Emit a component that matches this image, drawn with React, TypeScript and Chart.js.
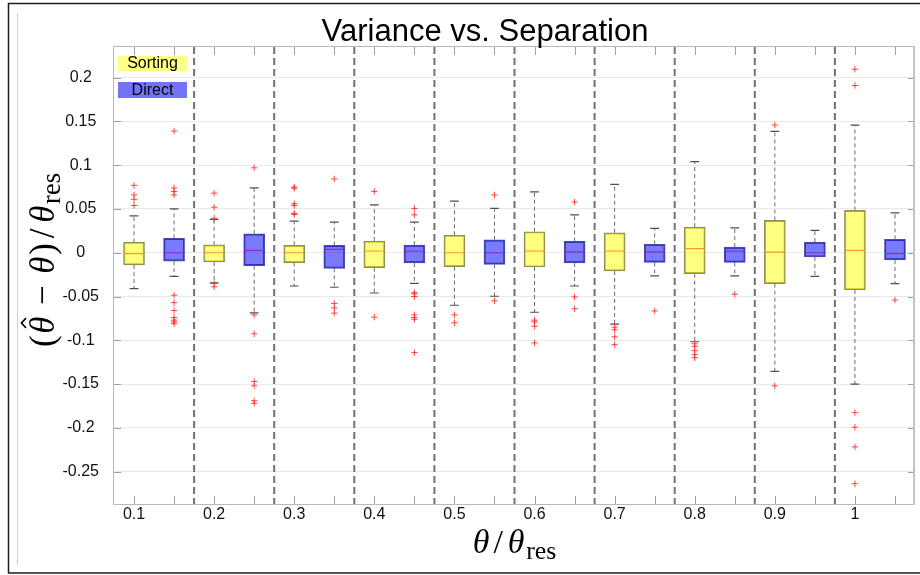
import React, { useEffect, useRef } from "react";
import { Chart, registerables } from "chart.js";

Chart.register(...registerables);

// ---------------- DATA ----------------
const categories = ["0.1", "0.2", "0.3", "0.4", "0.5", "0.6", "0.7", "0.8", "0.9", "1"];

const yTickValues = [-0.25, -0.2, -0.15, -0.1, -0.05, 0, 0.05, 0.1, 0.15, 0.2];
const yTickLabels = ["-0.25", "-0.2", "-0.15", "-0.1", "-0.05", "0", "0.05", "0.1", "0.15", "0.2"];

// Sorting (yellow)
const sortingLow = [-0.041, -0.0345, -0.038, -0.046, -0.06, -0.068, -0.0816, -0.1017, -0.1355, -0.15];
const sortingQ1 = [-0.014, -0.0106, -0.0114, -0.017, -0.016, -0.0163, -0.0208, -0.024, -0.0353, -0.0425];
const sortingMedian = [-0.001, 0, 0, 0.002, 0, 0.002, 0.002, 0.0046, 0.0008, 0.0027];
const sortingQ3 = [0.012, 0.009, 0.0084, 0.0133, 0.02, 0.024, 0.0228, 0.0293, 0.0369, 0.0483];
const sortingHigh = [0.042, 0.038, 0.036, 0.0547, 0.059, 0.0695, 0.078, 0.104, 0.1386, 0.1458];
const sortingOutliers = [
  [0.077, 0.066, 0.061, 0.054],
  [0.068, 0.052, 0.0395, -0.0352, -0.039],
  [0.075, 0.0737, 0.056, 0.054, 0.045, 0.0437],
  [0.07, -0.0736],
  [-0.071, -0.08],
  [-0.077, -0.079, -0.084, -0.103],
  [-0.085, -0.088, -0.096, -0.105],
  [-0.104, -0.107, -0.112, -0.1165, -0.12],
  [0.1458, -0.152],
  [0.2096, 0.191, -0.1826, -0.1993, -0.2217, -0.2638],
];

// Direct (blue)
const directLow = [-0.027, -0.0687, -0.0394, -0.035, -0.0497, -0.038, -0.0265, -0.0265, -0.027, -0.0353];
const directQ1 = [-0.0095, -0.0148, -0.0178, -0.0117, -0.0133, -0.0117, -0.011, -0.011, -0.0049, -0.0083];
const directMedian = [0, 0.0027, 0.0039, 0.002, 0, 0.001, 0.001, 0.002, 0, -0.001];
const directQ3 = [0.0164, 0.0216, 0.0084, 0.0088, 0.0148, 0.013, 0.0095, 0.0065, 0.0122, 0.0153];
const directHigh = [0.05, 0.074, 0.035, 0.035, 0.0506, 0.0433, 0.0278, 0.0285, 0.0255, 0.0456];
const directOutliers = [
  [0.139, 0.074, 0.07, 0.066, -0.0485, -0.057, -0.066, -0.074, -0.077, -0.079, -0.081],
  [0.097, -0.071, -0.0926, -0.147, -0.152, -0.169, -0.172],
  [0.0843, -0.058, -0.063, -0.069],
  [0.0506, 0.0433, -0.0456, -0.047, -0.05, -0.071, -0.074, -0.076, -0.114],
  [0.066, -0.055],
  [0.058, -0.0505, -0.064],
  [-0.0664],
  [-0.0474],
  [],
  [-0.054],
];

const seriesNames = ["Sorting", "Direct"];

// ---------------- STYLE ----------------
const Y_MIN = -0.287;
const Y_MAX = 0.235;
const SANS = '"Liberation Sans", Arial, sans-serif';
const SERIF = '"Liberation Serif", "DejaVu Serif", serif';

const yellowFill = "rgba(255,255,0,0.5)";
const yellowEdge = "#8f8f55";
const blueFill = "rgba(0,0,255,0.52)";
const blueEdge = "#4a4aa8";
const yellowMedian = "#f59a2c";
const blueMedian = "#8e2fb0";

const pos = (i: number, s: number) => 2 * i + 1 + s;

function boxBars(label: string, q1: number[], q3: number[], s: number, fill: string, edge: string) {
  return {
    type: "bar" as const,
    label,
    data: categories.map((_, i) => ({ x: pos(i, s), y: [q1[i], q3[i]] })),
    backgroundColor: fill,
    borderColor: edge,
    borderWidth: 1.3,
    borderSkipped: false,
    barThickness: 21,
    grouped: false,
    order: 3,
  };
}

function whiskerPts(low: number[], q1: number[], q3: number[], high: number[], s: number) {
  const pts: any[] = [];
  categories.forEach((_, i) => {
    const x = pos(i, s);
    pts.push({ x, y: q3[i] }, { x, y: high[i] }, { x, y: null }, { x, y: q1[i] }, { x, y: low[i] }, { x, y: null });
  });
  return pts;
}

function capPts(low: number[], high: number[], s: number) {
  const pts: any[] = [];
  categories.forEach((_, i) => {
    const x = pos(i, s);
    pts.push({ x: x - 0.11, y: high[i] }, { x: x + 0.11, y: high[i] }, { x, y: null });
    pts.push({ x: x - 0.11, y: low[i] }, { x: x + 0.11, y: low[i] }, { x, y: null });
  });
  return pts;
}

function medianPts(med: number[], s: number) {
  const pts: any[] = [];
  categories.forEach((_, i) => {
    const x = pos(i, s);
    pts.push({ x: x - 0.25, y: med[i] }, { x: x + 0.25, y: med[i] }, { x, y: null });
  });
  return pts;
}

function outlierPts(out: number[][], s: number) {
  const pts: any[] = [];
  out.forEach((arr, i) => arr.forEach((v) => pts.push({ x: pos(i, s), y: v })));
  return pts;
}

function separatorPts() {
  const pts: any[] = [];
  for (let i = 1; i < categories.length; i++) {
    const x = 2 * i + 0.5;
    pts.push({ x, y: Y_MAX }, { x, y: Y_MIN }, { x, y: null });
  }
  return pts;
}

type Part = { t?: string; it?: boolean; sub?: boolean; hat?: boolean; gap?: number };
const yLabelParts: Part[] = [
  { t: "(" }, { gap: 0.05 }, { t: "θ", it: true, hat: true }, { gap: 0.33 }, { t: "−" }, { gap: 0.33 },
  { t: "θ", it: true }, { gap: 0.05 }, { t: ")" }, { gap: 0.14 }, { t: "/" }, { gap: 0.16 }, { t: "θ", it: true }, { gap: 0.05 }, { t: "res", sub: true },
];
const xLabelParts: Part[] = [
  { t: "θ", it: true }, { gap: 0.12 }, { t: "/" }, { gap: 0.14 }, { t: "θ", it: true }, { gap: 0.05 }, { t: "res", sub: true },
];

function partFont(p: Part, S: number) {
  const size = p.sub ? S * 0.76 : S;
  return `${p.it ? "italic " : ""}${size}px ${SERIF}`;
}

function drawMath(ctx: CanvasRenderingContext2D, parts: Part[], S: number, cx: number, base: number) {
  let total = 0;
  const widths = parts.map((p) => {
    if (p.gap !== undefined) return p.gap * S;
    ctx.font = partFont(p, S);
    return ctx.measureText(p.t as string).width;
  });
  widths.forEach((w) => (total += w));
  let x = cx - total / 2;
  ctx.fillStyle = "#000";
  ctx.textAlign = "left";
  ctx.textBaseline = "alphabetic";
  parts.forEach((p, k) => {
    if (p.gap === undefined) {
      ctx.font = partFont(p, S);
      const y = base + (p.sub ? 0.17 * S : 0);
      ctx.fillText(p.t as string, x, y);
      if (p.hat) {
        const hx = x + widths[k] / 2 + 0.06 * S;
        ctx.save();
        ctx.strokeStyle = "#000";
        ctx.lineWidth = 1.6;
        ctx.beginPath();
        ctx.moveTo(hx - 0.14 * S, base - 0.8 * S);
        ctx.lineTo(hx, base - 0.93 * S);
        ctx.lineTo(hx + 0.14 * S, base - 0.8 * S);
        ctx.stroke();
        ctx.restore();
      }
    }
    x += widths[k];
  });
}

const decorPlugin = {
  id: "decor",
  beforeDraw(chart: any) {
    const ctx = chart.ctx as CanvasRenderingContext2D;
    ctx.save();
    ctx.fillStyle = "#fff";
    ctx.fillRect(0, 0, chart.width, chart.height);
    ctx.strokeStyle = "#1e1e1e";
    ctx.lineWidth = 1.5;
    ctx.beginPath();
    ctx.moveTo(925, 3.5);
    ctx.lineTo(8.5, 3.5);
    ctx.lineTo(8.5, 573);
    ctx.lineTo(925, 573);
    ctx.stroke();
    ctx.strokeStyle = "#cfcfcf";
    ctx.lineWidth = 1;
    ctx.beginPath();
    ctx.moveTo(17.5, 13);
    ctx.lineTo(17.5, 565);
    ctx.stroke();
    ctx.restore();
  },
  afterDatasetsDraw(chart: any) {
    const ctx = chart.ctx as CanvasRenderingContext2D;
    const { left, right, top, bottom } = chart.chartArea;
    const xs = chart.scales.x;
    const ys = chart.scales.y;
    ctx.save();
    // inward ticks
    ctx.strokeStyle = "#a0a0a0";
    ctx.lineWidth = 1;
    ctx.beginPath();
    xs.ticks.forEach((t: any) => {
      const px = Math.round(xs.getPixelForValue(t.value)) + 0.5;
      ctx.moveTo(px, bottom);
      ctx.lineTo(px, bottom - 8);
      ctx.moveTo(px, top);
      ctx.lineTo(px, top + 8);
    });
    ys.ticks.forEach((t: any) => {
      const py = Math.round(ys.getPixelForValue(t.value)) + 0.5;
      ctx.moveTo(left, py);
      ctx.lineTo(left + 7, py);
      ctx.moveTo(right, py);
      ctx.lineTo(right - 7, py);
    });
    ctx.stroke();
    // frame
    ctx.strokeStyle = "#b9b9b9";
    ctx.lineWidth = 1;
    ctx.beginPath();
    ctx.moveTo(right, top - 0.5);
    ctx.lineTo(left - 0.5, top - 0.5);
    ctx.lineTo(left - 0.5, bottom + 0.5);
    ctx.lineTo(right, bottom + 0.5);
    ctx.stroke();
    ctx.strokeStyle = "#c4c4c4";
    ctx.lineWidth = 2;
    ctx.beginPath();
    ctx.moveTo(right - 1, top - 1);
    ctx.lineTo(right - 1, bottom + 1);
    ctx.stroke();
    // legend
    const legendItems = [
      { label: seriesNames[0], color: "#ffff85", y: 56, h: 15 },
      { label: seriesNames[1], color: "#7373f7", y: 82, h: 16 },
    ];
    legendItems.forEach((it) => {
      ctx.fillStyle = it.color;
      ctx.fillRect(118, it.y, 69, it.h);
      ctx.fillStyle = "#000";
      ctx.font = `16px ${SANS}`;
      ctx.textAlign = "center";
      ctx.textBaseline = "middle";
      ctx.fillText(it.label, 152.5, it.y + it.h / 2 + 0.5);
    });
    ctx.restore();
  },
  afterDraw(chart: any) {
    const ctx = chart.ctx as CanvasRenderingContext2D;
    ctx.save();
    ctx.fillStyle = "#000";
    ctx.font = `31px ${SANS}`;
    ctx.textAlign = "center";
    ctx.textBaseline = "alphabetic";
    ctx.fillText("Variance vs. Separation", 485, 41);
    // x title
    const { left, right } = chart.chartArea;
    drawMath(ctx, xLabelParts, 34, (left + right) / 2, 553);
    // y title
    ctx.save();
    ctx.translate(54, 260);
    ctx.rotate(-Math.PI / 2);
    drawMath(ctx, yLabelParts, 35, 0, 0);
    ctx.restore();
    ctx.restore();
  },
};

export default function App() {
  const ref = useRef<HTMLCanvasElement | null>(null);
  useEffect(() => {
    if (!ref.current) return;
    const positions = categories.flatMap((_, i) => [pos(i, 0), pos(i, 1)]);
    const chart = new Chart(ref.current, {
      type: "bar",
      data: {
        datasets: [
          boxBars(seriesNames[0], sortingQ1, sortingQ3, 0, yellowFill, yellowEdge),
          boxBars(seriesNames[1], directQ1, directQ3, 1, blueFill, blueEdge),
          {
            type: "line",
            label: "whiskers",
            data: [...whiskerPts(sortingLow, sortingQ1, sortingQ3, sortingHigh, 0), ...whiskerPts(directLow, directQ1, directQ3, directHigh, 1)],
            borderColor: "#6c6c6c",
            borderWidth: 1,
            borderDash: [4, 3],
            pointRadius: 0,
            spanGaps: false,
            fill: false,
            order: 4,
          },
          {
            type: "line",
            label: "caps",
            data: [...capPts(sortingLow, sortingHigh, 0), ...capPts(directLow, directHigh, 1)],
            borderColor: "#4f4f4f",
            borderWidth: 1.2,
            pointRadius: 0,
            spanGaps: false,
            fill: false,
            order: 2,
          },
          {
            type: "line",
            label: "sortingMedian",
            data: medianPts(sortingMedian, 0),
            borderColor: yellowMedian,
            borderWidth: 1.2,
            pointRadius: 0,
            spanGaps: false,
            fill: false,
            order: 1,
          },
          {
            type: "line",
            label: "directMedian",
            data: medianPts(directMedian, 1),
            borderColor: blueMedian,
            borderWidth: 1.2,
            pointRadius: 0,
            spanGaps: false,
            fill: false,
            order: 1,
          },
          {
            type: "line",
            label: "separators",
            data: separatorPts(),
            borderColor: "#727272",
            borderWidth: 2,
            borderDash: [7, 4],
            pointRadius: 0,
            spanGaps: false,
            fill: false,
            order: 5,
          },
          {
            type: "scatter",
            label: "outliers",
            data: [...outlierPts(sortingOutliers, 0), ...outlierPts(directOutliers, 1)],
            pointStyle: "cross",
            pointRadius: 3.2,
            borderColor: "rgba(255,30,30,0.8)",
            borderWidth: 1,
            showLine: false,
            order: 0,
          },
        ] as any,
      },
      options: {
        animation: false,
        responsive: false,
        events: [],
        layout: { padding: { top: 47, right: 3, left: 0, bottom: 0 } },
        plugins: { legend: { display: false }, tooltip: { enabled: false }, title: { display: false } },
        scales: {
          x: {
            type: "linear",
            min: 0.5,
            max: 20.5,
            offset: false,
            grid: { display: false, offset: false },
            border: { display: false },
            afterBuildTicks: (s: any) => {
              s.ticks = positions.map((v) => ({ value: v }));
            },
            afterFit: (s: any) => {
              s.height = 71;
            },
            ticks: {
              autoSkip: false,
              maxRotation: 0,
              minRotation: 0,
              padding: -7,
              color: "#111",
              font: { family: SANS, size: 16 },
              callback: (v: any) => {
                const n = Number(v);
                return n % 2 === 1 ? categories[(n - 1) / 2] : "";
              },
            },
          },
          y: {
            type: "linear",
            min: Y_MIN,
            max: Y_MAX,
            grid: { color: "#e9e9e9", lineWidth: 1, drawTicks: false },
            border: { display: false },
            afterBuildTicks: (s: any) => {
              s.ticks = yTickValues.map((v) => ({ value: v }));
            },
            afterFit: (s: any) => {
              s.width = 114;
            },
            ticks: {
              autoSkip: false,
              crossAlign: "center",
              padding: 15,
              color: "#111",
              font: { family: SANS, size: 16 },
              callback: (v: any) => {
                const k = yTickValues.findIndex((t) => Math.abs(t - Number(v)) < 1e-9);
                return k >= 0 ? yTickLabels[k] : "";
              },
            },
          },
        } as any,
      },
      plugins: [decorPlugin],
    });
    return () => chart.destroy();
  }, []);
  return (
    <div style={{ position: "fixed", left: 0, top: 0, width: 920, height: 575, background: "#fff" }}>
      <canvas ref={ref} width={920} height={575} style={{ display: "block" }} />
    </div>
  );
}
